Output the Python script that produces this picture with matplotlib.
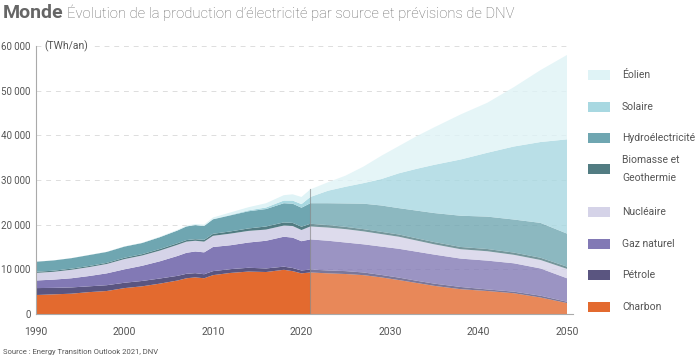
import matplotlib
matplotlib.use("Agg")
import matplotlib.pyplot as plt
from matplotlib.patches import Rectangle

plt.rcParams["font.family"] = ["Roboto", "DejaVu Sans"]

# Historical data (TWh/an)
years_hist = [1990, 1992, 1994, 1996, 1998, 2000, 2002, 2004, 2006, 2007, 2008,
              2009, 2010, 2012, 2014, 2016, 2018, 2019, 2020, 2021]
charbon_h = [4250, 4400, 4550, 4900, 5150, 5800, 6200, 6800, 7500, 8000, 8200,
             8000, 8700, 9200, 9500, 9400, 9900, 9600, 9100, 9300]
petrole_h = [1550, 1450, 1400, 1300, 1300, 1200, 1200, 1150, 1050, 1000, 950,
             900, 900, 850, 850, 800, 700, 700, 650, 650]
gaz_h = [1700, 1850, 2050, 2300, 2650, 3000, 3400, 3850, 4450, 4700, 4850,
         4900, 5400, 5350, 5650, 6200, 6700, 6800, 6550, 6750]
nucleaire_h = [1700, 1750, 1900, 2000, 2100, 2300, 2300, 2400, 2500, 2500, 2400,
               2400, 2500, 2600, 2600, 2500, 2500, 2600, 2500, 2900]
biomasse_h = [250, 250, 250, 250, 250, 300, 300, 350, 350, 350, 350,
              400, 450, 500, 550, 700, 700, 700, 750, 600]
hydro_h = [2250, 2300, 2350, 2450, 2450, 2500, 2500, 2650, 2850, 3050, 3150,
           3100, 3250, 3600, 3850, 3900, 4300, 4300, 4250, 4600]
solaire_h = [0, 0, 0, 0, 0, 0, 0, 10, 20, 20, 30,
             40, 50, 100, 200, 350, 600, 700, 800, 1400]
eolien_h = [20, 20, 20, 30, 40, 50, 60, 90, 130, 170, 220,
            280, 350, 550, 700, 950, 1200, 1400, 1600, 1700]

# DNV forecast (TWh/an)
years_prev = [2021, 2023, 2025, 2027, 2029, 2031, 2033, 2035, 2038, 2041, 2044, 2047, 2050]
charbon_p = [9300, 9100, 8950, 8700, 8200, 7600, 6950, 6300, 5550, 5150, 4650, 3700, 2450]
petrole_p = [650, 650, 650, 600, 550, 550, 500, 500, 500, 350, 350, 400, 300]
gaz_p = [6750, 6650, 6400, 6300, 6350, 6450, 6500, 6500, 6350, 6450, 6350, 6100, 5250]
nucleaire_p = [2900, 2950, 3000, 2900, 2800, 2700, 2500, 2300, 2100, 2100, 1900, 1900, 2100]
biomasse_p = [600, 550, 500, 500, 500, 500, 500, 500, 500, 500, 500, 500, 500]
hydro_p = [4600, 4900, 5250, 5700, 5900, 5900, 6200, 6500, 7000, 7250, 7400, 7800, 7400]
solaire_p = [1400, 2800, 3750, 4600, 5900, 7800, 9350, 10800, 12600, 14300, 16350, 18100, 21100]
eolien_p = [1700, 1900, 2500, 3700, 5200, 6100, 7300, 8400, 10100, 11200, 13300, 16100, 18900]

labels = ["Charbon", "Pétrole", "Gaz naturel", "Nucléaire",
          "Biomasse et\nGeothermie", "Hydroélectricité", "Solaire", "Éolien"]
colors = ["#e36a2f", "#5a5580", "#8279b5", "#d5d3e8",
          "#527c82", "#6fa6b1", "#a8d8e1", "#dff3f6"]

fig = plt.figure(figsize=(7, 3.58), dpi=100)
ax = fig.add_axes([0.0514, 0.1229, 0.7586, 0.7486])

ax.stackplot(years_hist, charbon_h, petrole_h, gaz_h, nucleaire_h, biomasse_h,
             hydro_h, solaire_h, eolien_h, colors=colors, linewidth=0)
ax.stackplot(years_prev, charbon_p, petrole_p, gaz_p, nucleaire_p, biomasse_p,
             hydro_p, solaire_p, eolien_p, colors=colors, alpha=0.8, linewidth=0)

total_2021 = (charbon_p[0] + petrole_p[0] + gaz_p[0] + nucleaire_p[0]
              + biomasse_p[0] + hydro_p[0] + solaire_p[0] + eolien_p[0])
ax.plot([2021, 2021], [0, total_2021], color="#7a7a7a", lw=0.8, alpha=0.6)

ax.set_xlim(1990, 2050)
ax.set_ylim(0, 60000)
ax.set_yticks(range(0, 60001, 10000))
ax.set_yticklabels(["0" if v == 0 else f"{v // 1000} 000" for v in range(0, 60001, 10000)])
ax.set_xticks(range(1990, 2051, 10))
ax.tick_params(length=0, labelsize=7, colors="#555555")
ax.tick_params(axis="y", pad=4)
ax.tick_params(axis="x", pad=9, labelsize=7.5)

for v in range(10000, 60001, 10000):
    ax.axhline(v, color="#dddddd", lw=0.7, ls=(0, (5, 5)), zorder=0)

for s in ["top", "right"]:
    ax.spines[s].set_visible(False)
ax.spines["left"].set_color("#aaaaaa")
ax.spines["bottom"].set_color("#aaaaaa")
ax.spines["bottom"].set_bounds(1990, 2050.7)
ax.spines["left"].set_linewidth(0.8)
ax.spines["bottom"].set_linewidth(0.8)

ax.text(1991, 60000, "(TWh/an)", fontsize=7.5, color="#555555", va="center", ha="left",
        bbox=dict(facecolor="white", edgecolor="none", pad=1))

# Title
fig.text(0.004, 1 - 18 / 358, "Monde", fontsize=14, fontweight="bold", color="#666666",
         va="baseline")
fig.text(67 / 700, 1 - 18 / 358,
         "Évolution de la production d’électricité par source et prévisions de DNV",
         fontsize=10.6, fontweight="light", color="#666666", va="baseline")

# Legend
leg_y = [75, 107, 138, 169, 212, 244, 275, 307]
leg_items = list(zip(labels[::-1], colors[::-1]))
for (lab, col), y in zip(leg_items, leg_y):
    fig.patches.append(Rectangle((588 / 700, 1 - (y + 5) / 358), 22 / 700, 10 / 358,
                                 transform=fig.transFigure, facecolor=col, edgecolor="none"))
    if "\n" in lab:
        fig.text(622 / 700, 1 - y / 358, lab, fontsize=7.5, color="#555555",
                 va="center", ha="left", linespacing=1.9)
    else:
        fig.text(622 / 700, 1 - y / 358, lab, fontsize=7.5, color="#555555",
                 va="center", ha="left")

fig.text(0.004, 1 - 352 / 358, "Source : Energy Transition Outlook 2021, DNV",
         fontsize=5.5, color="#555555", va="center")

fig.savefig("out.png", dpi=100)
